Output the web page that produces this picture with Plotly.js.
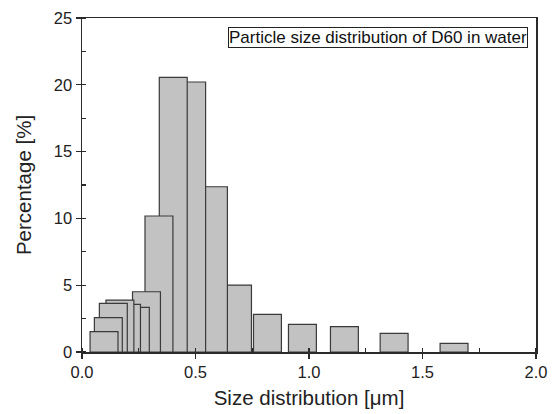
<!DOCTYPE html>
<html>
<head>
<meta charset="utf-8">
<script src="https://cdn.plot.ly/plotly-3.0.1.min.js"></script>
<style>html,body{margin:0;padding:0;background:#fff;}#chart{width:555px;height:414px;}</style>
</head>
<body>
<div id="chart"></div>
<script>
// Bin centres (µm) and percentages
var binCenters = [0.097, 0.116, 0.138, 0.167, 0.196, 0.235, 0.284, 0.339, 0.402, 0.483, 0.579, 0.685, 0.817, 0.971, 1.156, 1.375, 1.639];
var percentages = [1.52, 2.57, 3.64, 3.89, 3.57, 3.34, 4.51, 10.18, 20.56, 20.21, 12.37, 5.01, 2.82, 2.07, 1.90, 1.40, 0.65];
var binWidth = 0.123;
var xTickVals = [0, 0.5, 1.0, 1.5, 2.0];
var xTickText = ['0.0', '0.5', '1.0', '1.5', '2.0'];
var yTickVals = [0, 5, 10, 15, 20, 25];
var titleText = 'Particle size distribution of D60 in water';

// draw larger sizes first so the smaller bins sit on top
var xs = binCenters.slice().reverse();
var ys = percentages.slice().reverse();

var font = 'Liberation Sans, Arial, sans-serif';
var axisColor = '#2a2a2a';

var trace = {
  type: 'bar',
  x: xs,
  y: ys,
  width: xs.map(function(){ return binWidth; }),
  marker: {color: '#c2c2c2', line: {color: '#3a3a3a', width: 1.2}},
  hoverinfo: 'skip'
};

var layout = {
  width: 555, height: 414,
  margin: {l: 82, r: 19, t: 18, b: 62},
  paper_bgcolor: '#fff', plot_bgcolor: '#fff',
  showlegend: false,
  barmode: 'overlay',
  xaxis: {
    range: [0, 2], tickvals: xTickVals, ticktext: xTickText,
    ticks: 'outside', ticklen: 5, tickwidth: 1.2, tickcolor: axisColor,
    minor: {dtick: 0.25, tick0: 0, ticks: 'inside', ticklen: 4, tickwidth: 1.2, tickcolor: axisColor},
    showline: true, linecolor: axisColor, linewidth: 1.5, mirror: true,
    showgrid: false, zeroline: false,
    tickfont: {family: font, size: 16.5, color: '#222'},
    title: {text: 'Size distribution [μm]', font: {family: font, size: 20.5, color: '#222'}, standoff: 10}
  },
  yaxis: {
    range: [0, 25], tickvals: yTickVals,
    ticks: 'outside', ticklen: 5, tickwidth: 1.2, tickcolor: axisColor,
    minor: {dtick: 2.5, tick0: 0, ticks: 'inside', ticklen: 4, tickwidth: 1.2, tickcolor: axisColor},
    showline: true, linecolor: axisColor, linewidth: 1.5, mirror: true,
    showgrid: false, zeroline: false,
    tickfont: {family: font, size: 16.5, color: '#222'},
    title: {text: 'Percentage [%]', font: {family: font, size: 20.5, color: '#222'}, standoff: 16}
  },
  annotations: [{
    xref: 'paper', yref: 'paper', x: 0.983, y: 0.972, xanchor: 'right', yanchor: 'top',
    text: titleText, showarrow: false,
    font: {family: font, size: 17, color: '#111'},
    bordercolor: '#222', borderwidth: 1, borderpad: 0, bgcolor: '#fff'
  }]
};

Plotly.newPlot('chart', [trace], layout, {staticPlot: true, displayModeBar: false});
</script>
</body>
</html>
